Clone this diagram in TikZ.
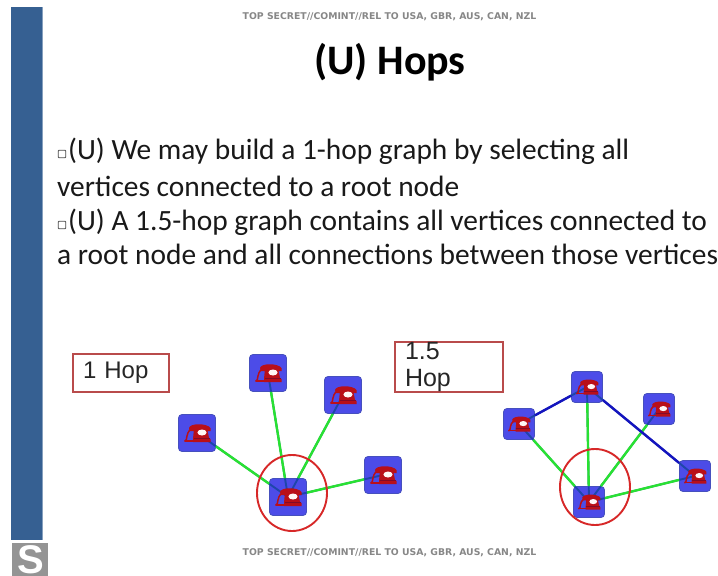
\documentclass[tikz,border=0pt]{standalone}
\usepackage{fontspec}
\usetikzlibrary{shapes.geometric}
\setmainfont{Carlito}
\newfontfamily\arialf{Liberation Sans}
\newfontfamily\banner{DejaVu Sans}
\definecolor{barblue}{RGB}{54,96,146}
\definecolor{nodeblue}{RGB}{76,76,232}
\definecolor{nodeedge}{RGB}{70,80,190}
\definecolor{linkgreen}{RGB}{40,225,50}
\definecolor{linkblue}{RGB}{20,20,190}
\definecolor{innerlink}{RGB}{30,70,170}
\definecolor{ringred}{RGB}{215,40,40}
\definecolor{boxred}{RGB}{185,75,75}
\definecolor{phonered}{RGB}{185,15,25}
\definecolor{phonedark}{RGB}{130,10,40}
\definecolor{greytext}{RGB}{135,135,135}
\tikzset{
  x=1pt,y=-1pt,
  bigvert/.style={draw=nodeedge,line width=0.8pt,fill=nodeblue,rounded corners=3.5pt,minimum size=37pt,inner sep=0pt},
  smallvert/.style={draw=nodeedge,line width=0.8pt,fill=nodeblue,rounded corners=3.5pt,minimum size=31pt,inner sep=0pt},
  spoke/.style={draw=linkgreen,line width=2.4pt},
  rim/.style={draw=linkblue,line width=2.4pt},
  ring/.style={draw=ringred,line width=1.9pt,ellipse,minimum width=70pt,minimum height=76pt,inner sep=0pt},
  tagbox/.style={draw=boxred,line width=1.7pt,anchor=center,inner sep=0pt,text=black!85,align=left},
  bodyline/.style={anchor=base west,inner sep=0pt,font=\fontsize{29.4}{32}\selectfont,text=black!90},
  bannertext/.style={inner sep=0pt,font=\banner\bfseries\fontsize{9.3}{11}\selectfont,text=greytext},
  bulletbox/.style={draw=black!70,line width=.9pt,fill=white,minimum size=7.5pt,inner sep=0pt,rounded corners=.8pt},
  pics/phone/.style={code={
    \begin{scope}[scale=#1]
      % cord
      \draw[phonered,line width=1.5pt,line cap=round] (-12,8) .. controls (-9,7) and (-12,1) .. (-6,-4);
      \draw[phonered,line width=1.2pt,line cap=round] (-12,8) -- (-3,8);
      % body and base
      \fill[phonered] (-3,-5) -- (10,-5) -- (12,5) -- (13.5,6) -- (13.5,9) -- (-4,9) -- (-4,6) -- cycle;
      % handset
      \fill[phonered] (-8,-5) .. controls (-7,-10) and (10,-10) .. (13.5,-5) -- (13.5,-2) -- (8.5,-2) -- (8,-5) -- (-1,-5) -- (-2,-2) -- (-7,-2) -- cycle;
      \draw[phonedark,line width=.8pt] (-3,5.5) -- (13,5.5);
      % dial
      \fill[white!85!pink] (5,-.5) ellipse [x radius=4.6, y radius=3];
    \end{scope}
  }}
}
\newcommand{\linkit}[3]{%
  \draw[innerlink,line width=1.9pt] (#2.center) -- (#3.center);
  \path[#1] (#2) -- (#3);
}
\begin{document}
\begin{tikzpicture}
\useasboundingbox (0,0) rectangle (718,576);
\fill[white] (0,0) rectangle (718,576);
% side bar
\fill[barblue] (11,7) rectangle (42,540);
\fill[barblue!60!white] (42,7) rectangle (43,540);
% logo
\fill[black!42] (12,543) rectangle (48,576);
\node[inner sep=0pt,text=white,font=\arialf\bfseries\fontsize{40}{40}\selectfont] (logo) at (31,560) {S};
% banners and title
\node[bannertext] (top) at (389.5,17) {TOP SECRET//COMINT//REL TO USA, GBR, AUS, CAN, NZL};
\node[bannertext] (bottom) at (389.5,553) {TOP SECRET//COMINT//REL TO USA, GBR, AUS, CAN, NZL};
\node[inner sep=0pt,font=\bfseries\fontsize{42}{46}\selectfont] (title) at (390,62) {(U) Hops};
% body
\node[bulletbox] (b1) at (62,154) {};
\node[bodyline] (l1) at (68,159) {(U) We may build a 1-hop graph by selecting all};
\node[bodyline] (l2) at (57,196) {vertices connected to a root node};
\node[bulletbox] (b2) at (62,225) {};
\node[bodyline] (l3) at (68,230) {(U) A 1.5-hop graph contains all vertices connected to};
\node[bodyline] (l4) at (57,264) {a root node and all connections between those vertices};
% tags
\node[tagbox,minimum width=96pt,minimum height=38pt,text width=76pt,font=\arialf\fontsize{24}{26}\selectfont] (hop1) at (121,373) {1 Hop};
\node[tagbox,minimum width=108pt,minimum height=38pt,text width=88pt,font=\arialf\fontsize{25}{27}\selectfont] (hop2) at (449,367) {1.5 Hop};
% left graph
\node[bigvert] (a) at (268,373) {};
\node[bigvert] (b) at (343,395) {};
\node[bigvert] (c) at (197,433) {};
\node[bigvert] (d) at (383,475) {};
\node[bigvert] (r) at (288,497) {};
\linkit{spoke}{r}{a}\linkit{spoke}{r}{b}\linkit{spoke}{r}{c}\linkit{spoke}{r}{d}
\foreach \n in {a,b,c,d,r} \pic at (\n) {phone={1}};
\node[ring] (ringa) at (292,493) {};
% right graph
\node[smallvert] (e) at (519,424) {};
\node[smallvert] (f) at (587,387) {};
\node[smallvert] (g) at (659,409) {};
\node[smallvert] (h) at (695,476) {};
\node[smallvert] (s) at (589,502) {};
\linkit{spoke}{s}{e}\linkit{spoke}{s}{f}\linkit{spoke}{s}{g}\linkit{spoke}{s}{h}
\linkit{rim}{e}{f}\linkit{rim}{f}{h}
\foreach \n in {e,f,g,h,s} \pic at (\n) {phone={0.85}};
\node[ring] (ringb) at (595,487) {};
\end{tikzpicture}
\end{document}
